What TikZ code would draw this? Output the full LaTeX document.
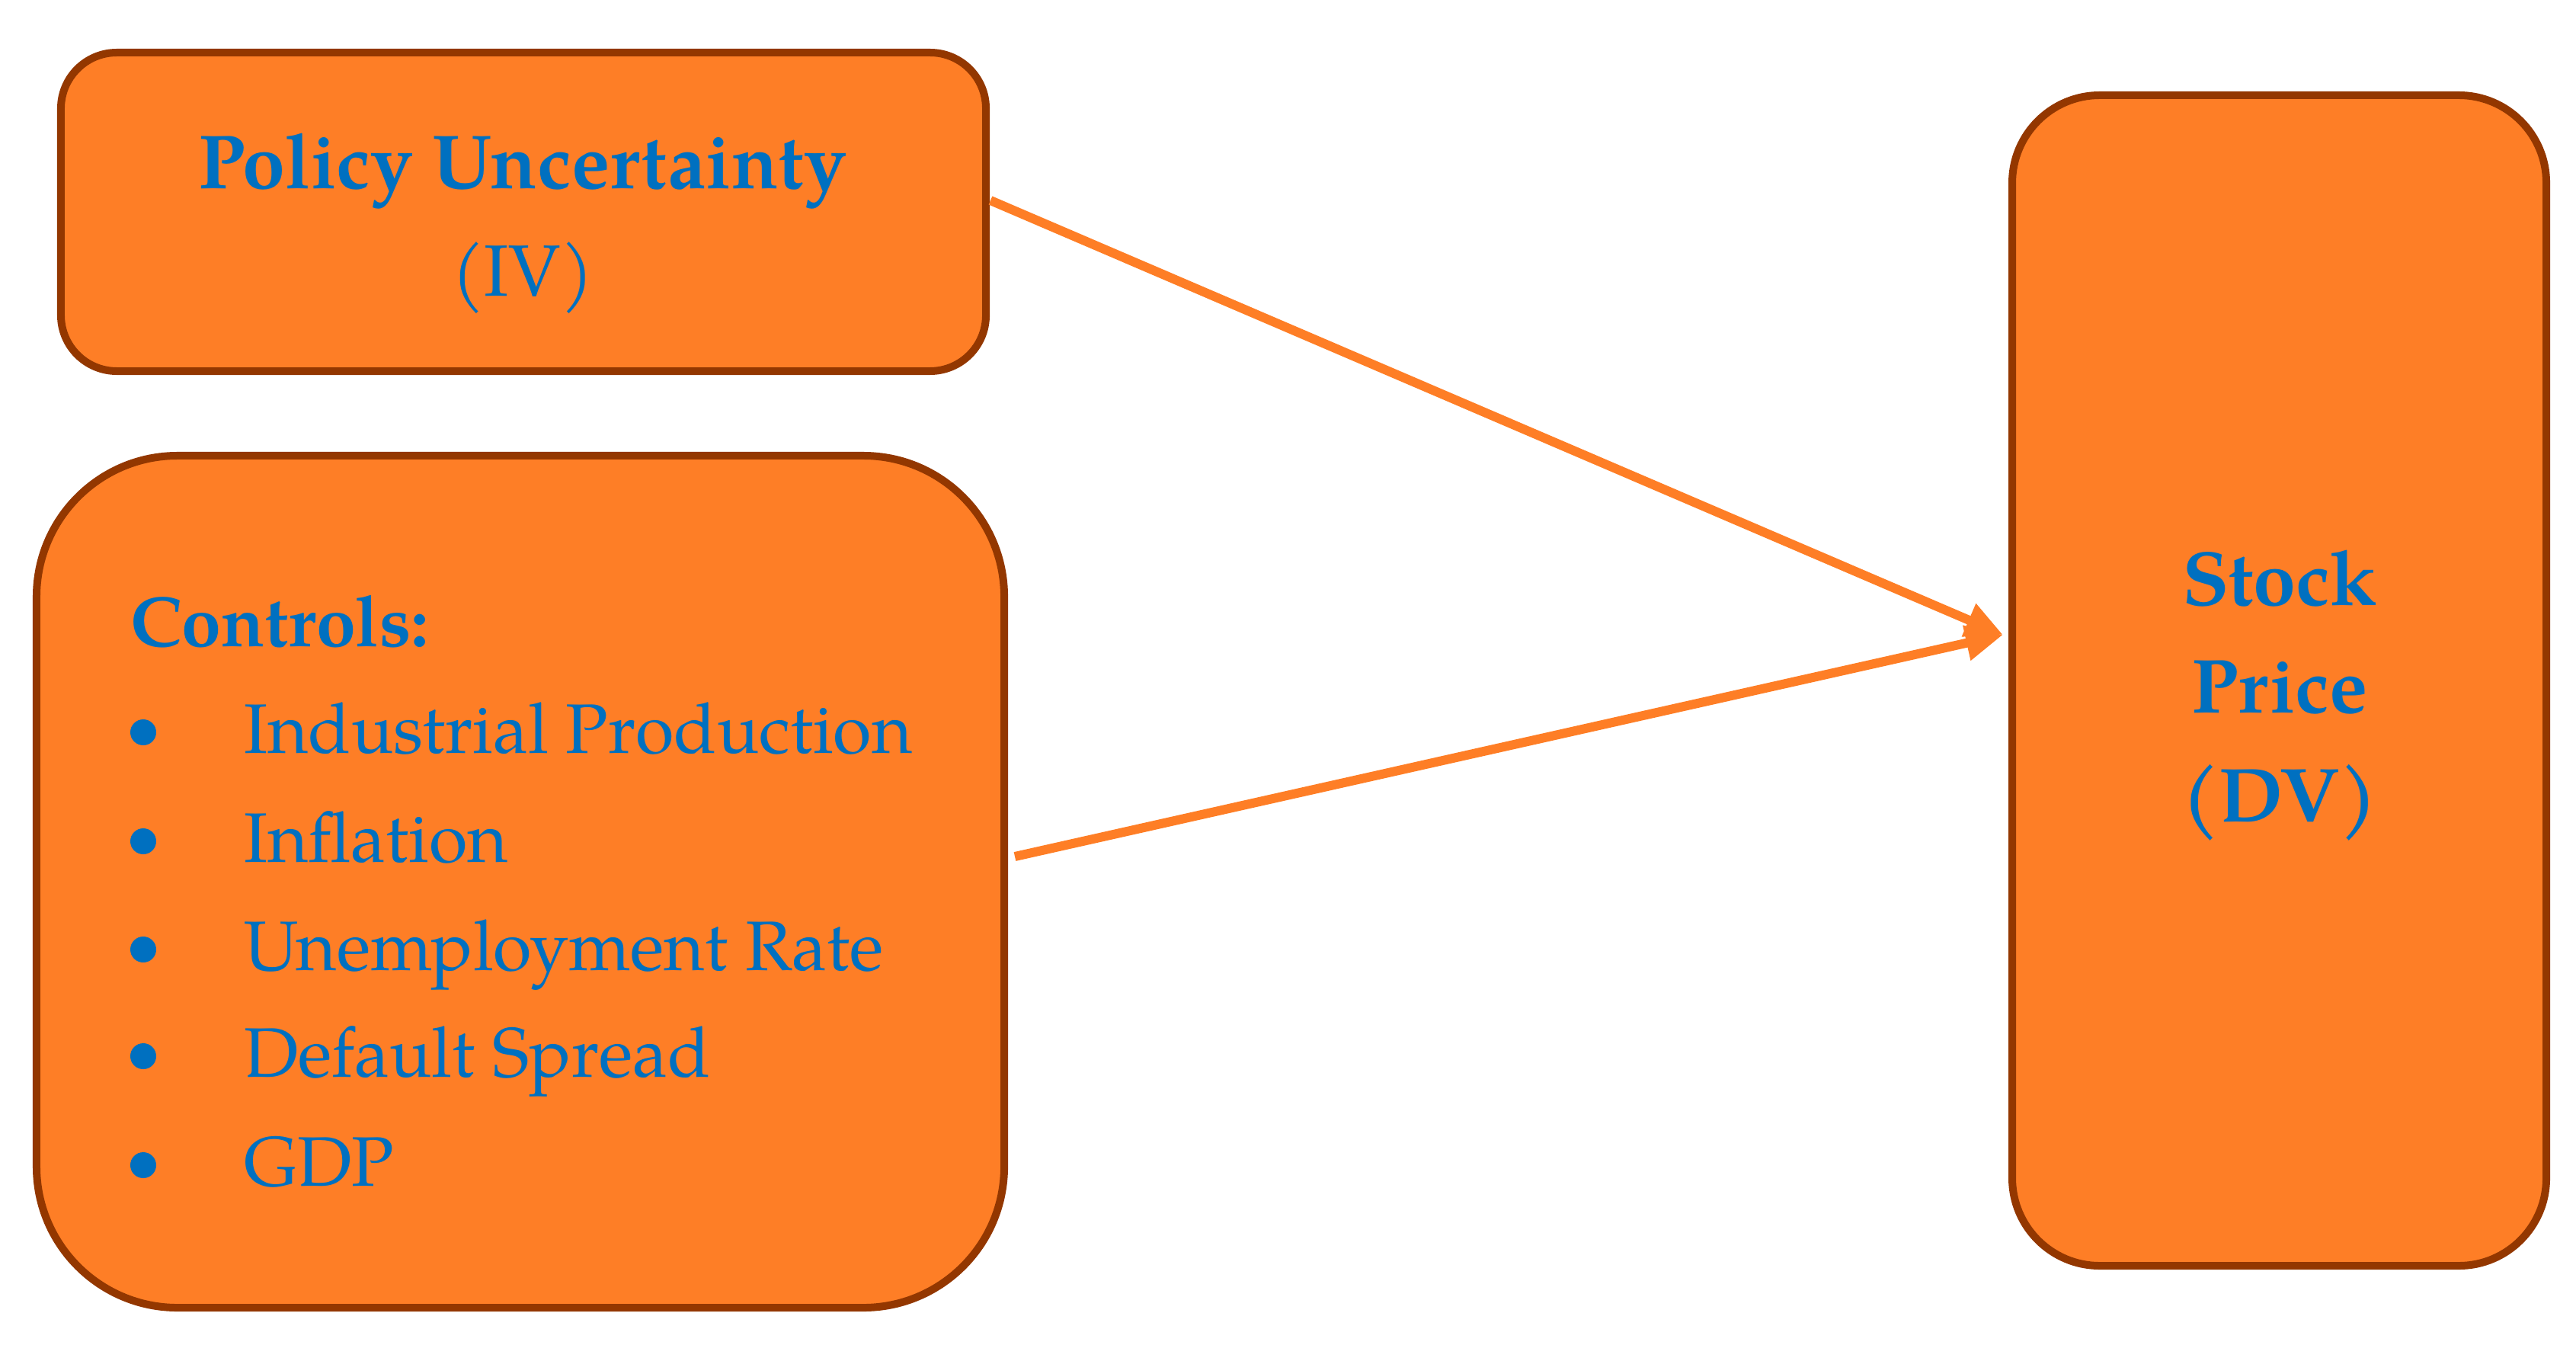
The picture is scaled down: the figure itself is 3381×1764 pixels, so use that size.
\documentclass[tikz,border=0pt]{standalone}
\usepackage{fontspec}
\setmainfont{TeX Gyre Pagella}
\usetikzlibrary{arrows.meta}
\definecolor{boxfill}{RGB}{254,126,38}
\definecolor{boxline}{RGB}{147,55,0}
\definecolor{txtblue}{RGB}{0,112,192}
\tikzset{
  box/.style={draw=boxline, fill=boxfill, line width=1.5pt, inner sep=0pt, outer sep=0pt},
  hdr/.style={text=txtblue, font=\fontsize{15.1pt}{18pt}\selectfont\bfseries, inner sep=0pt, anchor=base},
  reg/.style={text=txtblue, font=\fontsize{14.3pt}{17pt}\selectfont, inner sep=0pt, anchor=base},
  item/.style={text=txtblue, font=\fontsize{13.8pt}{16pt}\selectfont, inner sep=0pt, anchor=base west},
  bul/.style={fill=txtblue, circle, inner sep=0pt, minimum size=5.1pt},
  conn/.style={draw=boxfill, line width=1.8pt, -{Triangle[length=7.35pt, width=6.6pt]}}
}
\begin{document}
\begin{tikzpicture}[x=0.15pt, y=-0.15pt]
\useasboundingbox (0,0) rectangle (3381,1764);
% boxes
\node[box, rounded corners=11pt, minimum width=182.1pt, minimum height=62.7pt] (iv) at (687,278) {};
\node[box, rounded corners=27.75pt, minimum width=190.5pt, minimum height=167.7pt] (ctrl) at (683,1157) {};
\node[box, rounded corners=17.25pt, minimum width=105.15pt, minimum height=230.4pt] (dv) at (2991.5,893) {};
% texts
\node[hdr] (t1) at (686,247) {Policy Uncertainty};
\node[reg] (t2) at (686,389) {(IV)};
\node[hdr, anchor=base west, font=\fontsize{14pt}{17pt}\selectfont\bfseries] (t3) at (170,848) {Controls:};
\node[item] (i1) at (319,988) {Industrial Production};
\node[item] (i2) at (319,1131) {Inflation};
\node[item] (i3) at (319,1273) {Unemployment Rate};
\node[item] (i4) at (319,1413) {Default Spread};
\node[item] (i5) at (319,1556) {GDP};
\node[bul] (b1) at (188,961) {};
\node[bul] (b2) at (188,1104) {};
\node[bul] (b3) at (188,1246) {};
\node[bul] (b4) at (188,1386) {};
\node[bul] (b5) at (188,1529) {};
\node[hdr] (s1) at (2992,794) {Stock};
\node[hdr] (s2) at (2992,935) {Price};
\node[hdr] (s3) at (2992,1078) {(DV)};
% connectors
\coordinate (a1) at (1300,263);
\coordinate (a2) at (1332,1124);
\coordinate (tip) at (2629,833);
\draw[conn] (a1) -- (tip);
\draw[conn] (a2) -- (tip);
\end{tikzpicture}
\end{document}
